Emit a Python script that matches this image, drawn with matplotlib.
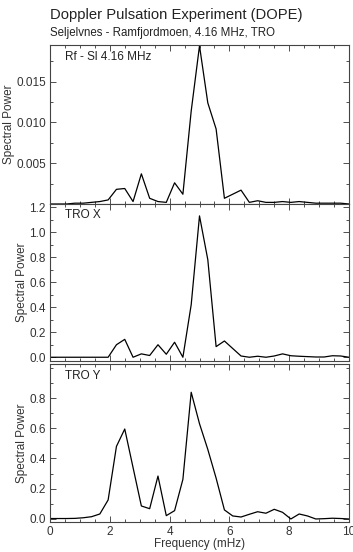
import numpy as np
import matplotlib
matplotlib.use("Agg")
import matplotlib.pyplot as plt
from matplotlib.ticker import MultipleLocator

plt.rcParams['font.family'] = ['Liberation Sans', 'DejaVu Sans']

# frequency bins, 1/3.6 mHz spacing (one hour of data)
freq = np.arange(37) / 3.6

rf_sl = [0.0, 0.0, 0.0, 0.0001, 0.0001, 0.0002, 0.0003, 0.0005, 0.0018, 0.0019,
         0.0003, 0.0037, 0.0007, 0.0003, 0.0002, 0.0026, 0.0012, 0.0114, 0.0194,
         0.0124, 0.0092, 0.0007, 0.0012, 0.0017, 0.0002, 0.0004, 0.0002, 0.0002,
         0.0003, 0.0002, 0.0003, 0.0002, 0.0001, 0.0001, 0.0001, 0.0001, 0.0]

tro_x = [0.0, 0.0, 0.0, 0.0, 0.0, 0.0, 0.0, 0.0, 0.10, 0.143,
         0.0, 0.027, 0.014, 0.10, 0.024, 0.12, 0.0, 0.42, 1.13,
         0.78, 0.085, 0.13, 0.07, 0.01, 0.0, 0.008, 0.0, 0.01,
         0.027, 0.012, 0.008, 0.005, 0.002, 0.002, 0.012, 0.01, 0.0]

tro_y = [0.003, 0.003, 0.003, 0.004, 0.008, 0.015, 0.033, 0.126, 0.48, 0.595,
         0.34, 0.086, 0.068, 0.284, 0.022, 0.055, 0.262, 0.838, 0.63,
         0.46, 0.27, 0.06, 0.02, 0.013, 0.031, 0.048, 0.038, 0.064,
         0.044, 0.0, 0.033, 0.02, 0.0, 0.002, 0.005, 0.003, 0.0]

labels = ['Rf - Sl 4.16 MHz', 'TRO X', 'TRO Y']

fig = plt.figure(figsize=(3.53, 5.52), dpi=100)
left, width = 50 / 353, 299 / 353
ax1 = fig.add_axes([left, 1 - 204 / 552, width, 159 / 552])
ax2 = fig.add_axes([left, 1 - 361 / 552, width, 157 / 552])
ax3 = fig.add_axes([left, 1 - 522 / 552, width, 158 / 552])
axes = [ax1, ax2, ax3]

fs = 8.5
for ax, data, lab in zip(axes, [rf_sl, tro_x, tro_y], labels):
    ax.plot(freq, data, color='black', lw=0.9)
    ax.set_xlim(0, 10)
    ax.xaxis.set_major_locator(MultipleLocator(2))
    ax.xaxis.set_minor_locator(MultipleLocator(0.5))
    ax.tick_params(which='both', direction='in', top=True, right=True,
                   labelsize=fs, colors='#333333', width=0.6, pad=3)
    ax.tick_params(which='major', length=4)
    ax.tick_params(which='minor', length=2)
    for s in ax.spines.values():
        s.set_linewidth(0.8)
        s.set_color('#444444')
    ax.set_ylabel('Spectral Power', fontsize=fs, color='#333333', labelpad=1)
    ax.text(0.05, 0.965, lab, transform=ax.transAxes, fontsize=fs,
            va='top', ha='left', color='#222222')

ax1.set_ylim(0, 0.0195)
ax1.yaxis.set_minor_locator(MultipleLocator(0.0025))
ax1.set_yticks([0.005, 0.010, 0.015])
ax1.set_yticklabels(['0.005', '0.010', '0.015'])

ax2.set_ylim(-0.03, 1.225)
ax2.yaxis.set_minor_locator(MultipleLocator(0.1))
ax2.set_yticks([0.0, 0.2, 0.4, 0.6, 0.8, 1.0, 1.2])

ax3.set_ylim(-0.02, 1.025)
ax3.yaxis.set_minor_locator(MultipleLocator(0.1))
ax3.set_yticks([0.0, 0.2, 0.4, 0.6, 0.8])

for ax in [ax1, ax2]:
    ax.tick_params(labelbottom=False)
ax3.set_xlabel('Frequency (mHz)', fontsize=fs, color='#333333', labelpad=0)

fig.text(left, 1 - 15 / 552, 'Doppler Pulsation Experiment (DOPE)',
         fontsize=10.6, va='center', ha='left', color='#222222')
fig.text(left, 1 - 33 / 552, 'Seljelvnes - Ramfjordmoen, 4.16 MHz, TRO',
         fontsize=8.3, va='center', ha='left', color='#222222')

fig.savefig('out.png', dpi=100)
